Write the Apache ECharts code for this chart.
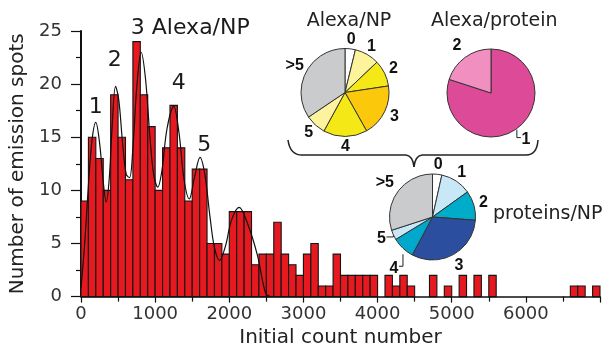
<!DOCTYPE html>
<html><head><meta charset="utf-8">
<script src="https://cdn.jsdelivr.net/npm/echarts@6/dist/echarts.min.js"></script>
<style>html,body{margin:0;padding:0;background:#fff}#c{width:603px;height:353px}</style>
</head><body><div id="c"></div>
<script>
// ---- data ----
const binWidth = 100;
const counts = [9,15,13,10,19,15,11,24,19,16, 10,14,18,14,9,12,12,5,5,4,
                8,8,8,3,4,4,7,4,3,2, 4,5,1,1,4,2,2,2,2,2,
                0,2,1,2,1,0,0,2,0,1, 0,2,0,2,0,2,0,0,0,0,
                0,0,0,0,0,0,1,1,0,1];
const fitX = [0,50,100,150,200,250,300,340,380,420,466,510,560,610,655,700,750,811,870,930,980,1035,1090,1160,1250,1320,1390,1461,1530,1605,1670,1740,1800,1870,1950,2030,2133,2245,2379,2491,2560];
const fitY = [0.8,5,10.5,14.8,16.4,14.5,10.8,8.9,11,16,19.8,18.5,14.5,11.5,11.2,14,19.5,23,20.5,15,11.5,10.3,11.8,15.8,17.9,15.5,11,9.2,11.2,13.1,11.5,7.5,4.6,3.4,4.8,7.2,8.4,6.9,3.9,0.3,0];
const peakNames = ['1','2','3 Alexa/NP','4','5'];
const peakAt = [[198,17.8],[454,22.2],[1474,25.25],[1317,20.05],[1663,14.27]];
const sliceNames = ['0','1','2','3','4','5','>5'];
const alexaNP = [3.8,9.1,9.7,19.2,16.1,7.6,34.4];
const proteinNames = ['1','2'];
const alexaProtein = [80,20];
const proteinsNP = [3.5,11.6,11.1,31.6,8.5,3.7,30.0];

// ---- styling ----
const FONT = '"DejaVu Sans", sans-serif';
const yellowCols = ['#ffffff','#fdf39b','#f4e816','#fcc80c','#f4e816','#fdf29d','#c9cbcd'];
const pinkCols = ['#dd4b98','#f190c0'];
const blueCols = ['#ffffff','#c8e8f7','#00acca','#2b4e9f','#00a9cb','#c8e8f7','#c9cbcd'];

// leaders: [down, side, labelDx, labelDy, startDown]
const pieGeom = {
  3: {center:[345,92.5], r:44, values:alexaNP, gap:[9,9,10,11,10,10,13], leaders:{}},
  4: {center:[491,93], r:44, values:alexaProtein, gap:[14,14], leaders:{0:[8,4,5,2,1]}},
  5: {center:[432.5,217], r:43, values:proteinsNP, gap:[9.5,10,10,12,10,10,16], leaders:{4:[12,-4,-5,2,6],5:[2,-7,-5,1.5,0]}}
};
function pieLabelLayout(p){
  const g = pieGeom[p.seriesIndex]; if(!g) return {};
  const vals = g.values; const total = vals.reduce((a,b)=>a+b,0);
  let before = 0; for(let k=0;k<p.dataIndex;k++) before += vals[k];
  const th = (before + vals[p.dataIndex]/2)/total*2*Math.PI;
  const s = Math.sin(th), c = -Math.cos(th);
  const lead = g.leaders[p.dataIndex];
  if (lead){
    const a = [g.center[0]+g.r*s, g.center[1]+g.r*c+lead[4]];
    const b = [a[0], a[1]+lead[0]];
    const e = [b[0]+lead[1], b[1]];
    return {x:e[0]+lead[2], y:e[1]+lead[3], align:'center', verticalAlign:'middle', labelLinePoints:[a,b,e]};
  }
  const d = g.r + g.gap[p.dataIndex];
  return {x:g.center[0]+d*s, y:g.center[1]+d*c, align:'center', verticalAlign:'middle'};
}
function pieSeries(idx, names, vals, cols){
  const g = pieGeom[idx];
  return {
    type:'pie', center:g.center, radius:g.r, startAngle:90, clockwise:true,
    avoidLabelOverlap:false, animation:false, silent:true,
    itemStyle:{borderColor:'#333', borderWidth:1},
    label:{show:true, position:'outside', formatter:'{b}', fontFamily:'"Liberation Sans", Arial, sans-serif', fontWeight:'bold', fontSize:16, color:'#111'},
    labelLine:{show:false, lineStyle:{color:'#222', width:1}},
    labelLayout: pieLabelLayout,
    data: vals.map((v,i)=>({name:names[i], value:v, itemStyle:{color:cols[i]},
      labelLine:{show: !!g.leaders[i], length:4, length2:2}})),
    z:5
  };
}
const braceStyle = {stroke:'#222', lineWidth:1.5, fill:null};
function bz(x1,y1,cx,cy,x2,y2){ return {type:'bezierCurve', shape:{x1:x1,y1:y1,cpx1:cx,cpy1:cy,x2:x2,y2:y2}, style:braceStyle}; }
function ln(x1,y1,x2,y2){ return {type:'line', shape:{x1:x1,y1:y1,x2:x2,y2:y2}, style:braceStyle}; }

const chart = echarts.init(document.getElementById('c'), null, {renderer:'canvas'});
const option = {
  animation:false,
  grid:{left:81, right:1, top:31, bottom:48.7, containLabel:false},
  xAxis:{
    type:'value', min:0, max:7000, interval:1000,
    name:'Initial count number', nameLocation:'middle', nameGap:29,
    nameTextStyle:{fontFamily:FONT, fontSize:20, color:'#222'},
    axisLine:{show:true, lineStyle:{color:'#111', width:1.5}},
    axisTick:{show:true, length:6, lineStyle:{color:'#111', width:1.2}},
    minorTick:{show:true, splitNumber:2, length:5, lineStyle:{color:'#111', width:1.2}},
    axisLabel:{fontFamily:FONT, fontSize:18, color:'#333', margin:8.5,
      formatter:v=> v>=7000 ? '' : String(v)},
    splitLine:{show:false}
  },
  yAxis:{
    type:'value', min:0, max:25, interval:5, offset:2,
    name:'Number of emission spots', nameLocation:'middle', nameGap:48, nameRotate:90,
    nameTextStyle:{fontFamily:FONT, fontSize:20, color:'#222'},
    axisLine:{show:true, lineStyle:{color:'#111', width:2}},
    axisTick:{show:true, length:10, lineStyle:{color:'#111', width:1.2}},
    minorTick:{show:true, splitNumber:2, length:5, lineStyle:{color:'#111', width:1.2}},
    axisLabel:{fontFamily:FONT, fontSize:18, color:'#333', margin:17},
    splitLine:{show:false}
  },
  series:[
    {
      type:'custom', clip:false,
      data: counts.map((c,i)=>[i*binWidth, (i+1)*binWidth, c]),
      renderItem:function(params, api){
        const v = api.value(2); if(!v) return null;
        const p0 = api.coord([api.value(0), v]);
        const p1 = api.coord([api.value(1), 0]);
        return {type:'rect', shape:{x:p0[0], y:p0[1], width:p1[0]-p0[0], height:p1[1]-p0[1]},
          style:{fill:'#e5191f', stroke:'#151515', lineWidth:1.1}};
      },
      z:2
    },
    {
      type:'line', data: fitX.map((x,i)=>[x, fitY[i]]), smooth:0.35, showSymbol:false, symbol:'none',
      lineStyle:{color:'#111', width:1.2}, z:3, silent:true
    },
    {
      type:'scatter', clip:false, symbolSize:0, silent:true,
      itemStyle:{color:'transparent', opacity:1},
      data: peakAt.map((p,i)=>({name:peakNames[i], value:p})),
      label:{show:true, position:'inside', formatter:'{b}', fontFamily:FONT, fontSize:22, color:'#1a1a1a', opacity:1, textBorderWidth:0},
      z:4
    },
    pieSeries(3, sliceNames, alexaNP, yellowCols),
    pieSeries(4, proteinNames, alexaProtein, pinkCols),
    pieSeries(5, sliceNames, proteinsNP, blueCols)
  ],
  graphic:[
    {type:'text', x:349, y:21, style:{text:'Alexa/NP', font:'19px "DejaVu Sans"', fill:'#222', textAlign:'center', textVerticalAlign:'middle', align:'center', verticalAlign:'middle'}},
    {type:'text', x:431, y:21, style:{text:'Alexa/protein', font:'19px "DejaVu Sans"', fill:'#222', textAlign:'left', textVerticalAlign:'middle', align:'left', verticalAlign:'middle'}},
    {type:'text', x:493, y:214, style:{text:'proteins/NP', font:'19px "DejaVu Sans"', fill:'#222', textAlign:'left', textVerticalAlign:'middle', align:'left', verticalAlign:'middle'}},
    bz(288,140,290,155,302,155), ln(302,155,406,155), bz(406,155,413,156,414,167),
    bz(414,167,415,156,422,155), ln(422,155,526,155), bz(526,155,537,155,538,140)
  ]
};
chart.setOption(option);
</script>
</body></html>
